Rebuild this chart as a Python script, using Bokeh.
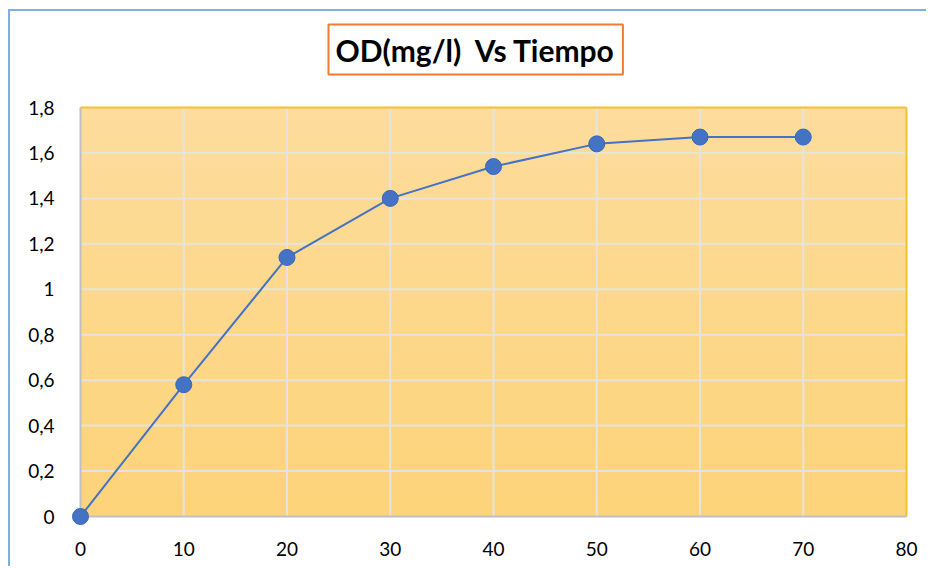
import numpy as np
from bokeh.plotting import figure
from bokeh.models import FixedTicker, CustomJSTickFormatter, ColumnDataSource, Label
from bokeh.embed import file_html
from bokeh.resources import INLINE

tiempo = [0, 10, 20, 30, 40, 50, 60, 70]
od = [0, 0.58, 1.14, 1.40, 1.54, 1.64, 1.67, 1.67]
x_ticks = [0, 10, 20, 30, 40, 50, 60, 70, 80]
y_ticks = [0, 0.2, 0.4, 0.6, 0.8, 1.0, 1.2, 1.4, 1.6, 1.8]
title_text = "OD(mg/l)\u00a0 Vs Tiempo"

FONT = "Lato"
X0, X1 = 0, 80
Y0, Y1 = 0, 1.8
PW, PH = 826, 409     # visible plot area in px
PAD = 10              # px of frame beyond the plot area so markers are not cut
TOP = 90              # px of frame above the plot area, holding the title box
kx = PW / (X1 - X0)
ky = PH / (Y1 - Y0)

p = figure(frame_width=PW + 2 * PAD, frame_height=PH + PAD + TOP,
           x_range=(X0 - PAD / kx, X1 + PAD / kx), y_range=(Y0 - PAD / ky, Y1 + TOP / ky),
           output_backend="svg", toolbar_location=None,
           min_border_left=60, min_border_right=10, min_border_top=6, min_border_bottom=40)
p.styles = {"border-left": "2px solid #7EAEE3", "border-top": "2px solid #7EAEE3",
            "margin-left": "8px", "margin-top": "9px"}

# title with orange box (screen px from frame bottom-left)
title = Label(x=258, y=PAD + PH + 33, x_units="screen", y_units="screen",
              text=title_text, anchor="bottom_left",
              text_font=FONT, text_font_style="bold", text_font_size="30px",
              text_color="black", border_line_color="#ED7D31", border_line_width=2,
              background_fill_color="white", padding=7)
p.add_layout(title)

# gradient background of plot area
n = 100
top = np.array([253, 221, 157])
bot = np.array([254, 212, 122])
t = np.linspace(0, 1, n)[:, None]
cols = (bot * (1 - t) + top * t).astype(np.uint32)
img = np.empty((n, 1), dtype=np.uint32)
view = img.view(dtype=np.uint8).reshape((n, 1, 4))
view[:, 0, 0] = cols[:, 0]
view[:, 0, 1] = cols[:, 1]
view[:, 0, 2] = cols[:, 2]
view[:, 0, 3] = 255
p.image_rgba(image=[img], x=X0, y=Y0, dw=X1 - X0, dh=Y1 - Y0)

p.xgrid.visible = False
p.ygrid.visible = False
p.outline_line_color = None
p.background_fill_color = "white"
p.border_fill_color = "white"

# grid lines inside the plot area
gx = [v for v in x_ticks if X0 < v < X1]
gy = [v for v in y_ticks if Y0 < v < Y1]
p.segment(x0=gx, y0=[Y0] * len(gx), x1=gx, y1=[Y1] * len(gx), line_color="#E6E3DC", line_width=2)
p.segment(x0=[X0] * len(gy), y0=gy, x1=[X1] * len(gy), y1=gy, line_color="#E6E3DC", line_width=2)
# plot-area border: gold top/right, grey axis lines left/bottom
p.segment(x0=[X0, X1], y0=[Y1, Y0], x1=[X1, X1], y1=[Y1, Y1], line_color="#F5C02F", line_width=2)
p.segment(x0=[X0, X0], y0=[Y0, Y0], x1=[X1, X0], y1=[Y0, Y1], line_color="#BFBFBF", line_width=2)

p.xaxis.ticker = FixedTicker(ticks=x_ticks)
p.yaxis.ticker = FixedTicker(ticks=y_ticks)
p.yaxis.formatter = CustomJSTickFormatter(code="""
var s = (Math.round(tick*10)/10).toString();
return s.replace('.', ',');
""")
for ax in (p.xaxis, p.yaxis):
    ax.axis_line_color = None
    ax.major_tick_line_color = None
    ax.minor_tick_line_color = None
    ax.major_label_text_font = FONT
    ax.major_label_text_font_size = "19px"
    ax.major_label_text_color = "black"
p.xaxis.major_label_standoff = 9
p.yaxis.major_label_standoff = 10

src = ColumnDataSource(dict(x=tiempo, y=od))
p.line("x", "y", source=src, line_color="#4472C4", line_width=2)
p.scatter("x", "y", source=src, size=16, fill_color="#4472C4", line_color="#3B66B5", line_width=1)

open("out.html", "w").write(file_html(p, INLINE))
